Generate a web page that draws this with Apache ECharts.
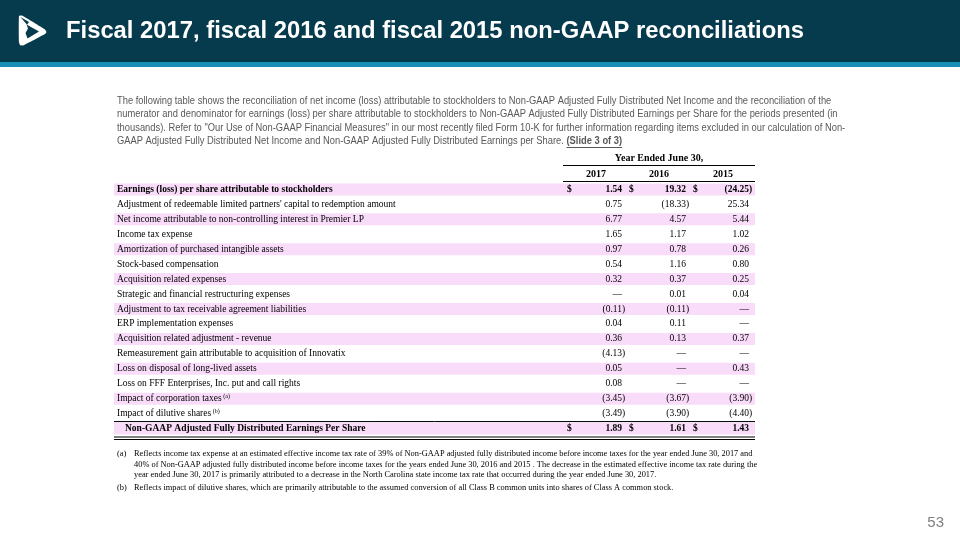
<!DOCTYPE html>
<html><head><meta charset="utf-8">
<script src="https://cdn.jsdelivr.net/npm/echarts@6/dist/echarts.min.js"></script>
<style>html,body{margin:0;padding:0;background:#fff}#c{width:960px;height:540px}</style>
</head><body><div id="c"></div>
<script>
// ---------- data ----------
const title = 'Fiscal 2017, fiscal 2016 and fiscal 2015 non-GAAP reconciliations';
const introLines = [
  'The following table shows the reconciliation of net income (loss) attributable to stockholders to Non-GAAP Adjusted Fully Distributed Net Income and the reconciliation of the',
  'numerator and denominator for earnings (loss) per share attributable to stockholders to Non-GAAP Adjusted Fully Distributed Earnings per Share for the periods presented (in',
  'thousands). Refer to "Our Use of Non-GAAP Financial Measures" in our most recently filed Form 10-K for further information regarding items excluded in our calculation of Non-',
  'GAAP Adjusted Fully Distributed Net Income and Non-GAAP Adjusted Fully Distributed Earnings per Share. '
];
const introTail = '(Slide 3 of 3)';
const groupHeader = 'Year Ended June 30,';
const years = ['2017', '2016', '2015'];
const rowLabels = [
  'Earnings (loss) per share attributable to stockholders',
  "Adjustment of redeemable limited partners' capital to redemption amount",
  'Net income attributable to non-controlling interest in Premier LP',
  'Income tax expense',
  'Amortization of purchased intangible assets',
  'Stock-based compensation',
  'Acquisition related expenses',
  'Strategic and financial restructuring expenses',
  'Adjustment to tax receivable agreement liabilities',
  'ERP implementation expenses',
  'Acquisition related adjustment - revenue',
  'Remeasurement gain attributable to acquisition of Innovatix',
  'Loss on disposal of long-lived assets',
  'Loss on FFF Enterprises, Inc. put and call rights',
  'Impact of corporation taxes',
  'Impact of dilutive shares',
  'Non-GAAP Adjusted Fully Distributed Earnings Per Share'
];
const rowNotes = [null, null, null, null, null, null, null, null, null, null, null, null, null, null, '(a)', '(b)', null];
const v2017 = [1.54, 0.75, 6.77, 1.65, 0.97, 0.54, 0.32, null, -0.11, 0.04, 0.36, -4.13, 0.05, 0.08, -3.45, -3.49, 1.89];
const v2016 = [19.32, -18.33, 4.57, 1.17, 0.78, 1.16, 0.37, 0.01, -0.11, 0.11, 0.13, null, null, null, -3.67, -3.90, 1.61];
const v2015 = [-24.25, 25.34, 5.44, 1.02, 0.26, 0.80, 0.25, 0.04, null, null, 0.37, null, 0.43, null, -3.90, -4.40, 1.43];
const footnoteA = [
  'Reflects income tax expense at an estimated effective income tax rate of 39% of Non-GAAP adjusted fully distributed income before income taxes for the year ended June 30, 2017 and',
  '40% of Non-GAAP adjusted fully distributed income before income taxes for the years ended June 30, 2016 and 2015 . The decrease in the estimated effective income tax rate during the',
  'year ended June 30, 2017 is primarily attributed to a decrease in the North Carolina state income tax rate that occurred during the year ended June 30, 2017.'
];
const footnoteB = ['Reflects impact of dilutive shares, which are primarily attributable to the assumed conversion of all Class B common units into shares of Class A common stock.'];
const pageNumber = '53';

// ---------- styling / layout ----------
const NAVY = '#063a4d', TEAL = '#1a8fb5', PINK = '#f9dcf9', GREY = '#595959';
const SANS = '"Liberation Sans", Arial, sans-serif';
const SERIF = '"Liberation Serif", "Times New Roman", serif';
const TFS = 9.5;
const cols = [
  {dollar: 567, right: 622, head: 596},
  {dollar: 629, right: 686, head: 659},
  {dollar: 693, right: 749, head: 723}
];
const values = [v2017, v2016, v2015];
const bandLeft = 114, bandRight = 755, labelX = 117;

const measure = (() => {
  const ctx = document.createElement('canvas').getContext('2d');
  return (s, font) => { ctx.font = font; return ctx.measureText(s).width; };
})();

const chart = echarts.init(document.getElementById('c'), null, {renderer: 'canvas'});

function renderRow(params, api) {
  const i = api.value(1);
  const yC = api.coord([0, i])[1];
  const h = api.size([0, 1])[1];
  const X = px => api.coord([px, i])[0];
  const last = i === rowLabels.length - 1;
  const bold = (i === 0 || last);
  const font = (bold ? 'bold ' : '') + TFS + 'px ' + SERIF;
  const ch = [];
  if (i % 2 === 0) {
    ch.push({type: 'rect', shape: {x: X(bandLeft), y: yC - 6, width: X(bandRight) - X(bandLeft), height: 12}, style: {fill: PINK}});
  }
  const note = rowNotes[i];
  ch.push({
    type: 'text',
    style: {
      x: X(last ? labelX + 8 : labelX), y: yC, verticalAlign: 'middle', align: 'left',
      text: '{n|' + rowLabels[i] + '}' + (note ? '{s| ' + note + '}' : ''),
      rich: {
        n: {fontFamily: SERIF, fontSize: TFS, fontWeight: bold ? 'bold' : 'normal', fill: '#000'},
        s: {fontFamily: SERIF, fontSize: 6, fill: '#000', padding: [0, 0, 5, 0]}
      }
    }
  });
  cols.forEach((c, k) => {
    const v = values[k][i];
    if (bold) ch.push({type: 'text', style: {x: X(c.dollar), y: yC, text: '$', font: font, fill: '#000', verticalAlign: 'middle', align: 'left'}});
    let s, tail = '';
    if (v === null) s = '\u2014';
    else if (v < 0) { s = '(' + Math.abs(v).toFixed(2); tail = ')'; }
    else s = v.toFixed(2);
    ch.push({type: 'text', style: {x: X(c.right), y: yC, text: s, font: font, fill: '#000', verticalAlign: 'middle', align: 'right'}});
    if (tail) ch.push({type: 'text', style: {x: X(c.right), y: yC, text: tail, font: font, fill: '#000', verticalAlign: 'middle', align: 'left'}});
  });
  if (last) {
    const top = yC - h / 2, bot = yC + h / 2;
    ch.push({type: 'line', shape: {x1: X(bandLeft), y1: top + 0.5, x2: X(bandRight), y2: top + 0.5}, style: {stroke: '#000', lineWidth: 1}});
    ch.push({type: 'line', shape: {x1: X(bandLeft), y1: bot + 1, x2: X(bandRight), y2: bot + 1}, style: {stroke: '#000', lineWidth: 1.2}});
    ch.push({type: 'line', shape: {x1: X(bandLeft), y1: bot + 3.5, x2: X(bandRight), y2: bot + 3.5}, style: {stroke: '#000', lineWidth: 1.2}});
  }
  return {type: 'group', children: ch};
}

const graphic = [];
graphic.push({type: 'rect', shape: {x: 0, y: 0, width: 960, height: 62}, style: {fill: NAVY}, silent: true});
graphic.push({type: 'rect', shape: {x: 0, y: 62, width: 960, height: 5}, style: {fill: TEAL}, silent: true});
// logo
graphic.push({type: 'polygon', shape: {points: [[19, 16], [22, 15.5], [45, 29.5], [46.5, 32], [45, 34], [23, 45.5], [20, 45], [19, 42]], smooth: 0.15}, style: {fill: '#fff'}});
graphic.push({type: 'polygon', shape: {points: [[26.5, 24.5], [39, 31.5], [27.5, 38.5], [25.5, 33], [28, 28.5]]}, style: {fill: NAVY}});
graphic.push({type: 'polygon', shape: {points: [[20.5, 17], [27, 24.8], [29, 22]]}, style: {fill: NAVY}});
graphic.push({type: 'text', x: 66, y: 31, style: {text: title, font: 'bold 23.8px ' + SANS, fill: '#fff', verticalAlign: 'middle'}});

// intro paragraph (slightly condensed horizontally, as in the source)
const IFS = 10, SX = 0.936, introFont = IFS + 'px ' + SANS, introBold = 'bold ' + IFS + 'px ' + SANS;
const introY = [101, 114.5, 128, 141.5];
introLines.forEach((t, k) => {
  graphic.push({type: 'text', x: 117, y: introY[k], scaleX: SX, style: {text: t, font: introFont, fill: GREY, verticalAlign: 'middle'}});
});
const w4 = measure(introLines[3], introFont) * SX;
const wt = measure(introTail, introBold) * SX;
graphic.push({type: 'text', x: 117 + w4, y: introY[3], scaleX: SX, style: {text: introTail, font: introBold, fill: GREY, verticalAlign: 'middle'}});
graphic.push({type: 'line', shape: {x1: 117 + w4, y1: introY[3] + 6, x2: 117 + w4 + wt, y2: introY[3] + 6}, style: {stroke: GREY, lineWidth: 1}});

// table headers
graphic.push({type: 'text', x: 659, y: 158, style: {text: groupHeader, font: 'bold 10px ' + SERIF, fill: '#000', align: 'center', verticalAlign: 'middle'}});
graphic.push({type: 'line', shape: {x1: 563, y1: 165.5, x2: 755, y2: 165.5}, style: {stroke: '#000', lineWidth: 1}});
years.forEach((y, k) => {
  graphic.push({type: 'text', x: cols[k].head, y: 174, style: {text: y, font: 'bold 10px ' + SERIF, fill: '#000', align: 'center', verticalAlign: 'middle'}});
});
graphic.push({type: 'line', shape: {x1: 563, y1: 181.5, x2: 755, y2: 181.5}, style: {stroke: '#000', lineWidth: 1}});

// footnotes
const FFS = 8.4, fnFont = FFS + 'px ' + SERIF;
const fnY = [454, 464.5, 475];
graphic.push({type: 'text', x: 117, y: fnY[0], style: {text: '(a)', font: fnFont, fill: '#000', verticalAlign: 'middle'}});
footnoteA.forEach((t, k) => graphic.push({type: 'text', x: 134, y: fnY[k], style: {text: t, font: fnFont, fill: '#000', verticalAlign: 'middle'}}));
graphic.push({type: 'text', x: 117, y: 488, style: {text: '(b)', font: fnFont, fill: '#000', verticalAlign: 'middle'}});
graphic.push({type: 'text', x: 134, y: 488, style: {text: footnoteB[0], font: fnFont, fill: '#000', verticalAlign: 'middle'}});

graphic.push({type: 'text', x: 944, y: 523, style: {text: pageNumber, font: '15px ' + SANS, fill: '#7f7f7f', align: 'right', verticalAlign: 'middle'}});

chart.setOption({
  animation: false,
  backgroundColor: '#fff',
  grid: {left: 0, right: 0, top: 182, height: 254},
  xAxis: {type: 'value', min: 0, max: 960, show: false},
  yAxis: {type: 'category', inverse: true, show: false, data: rowLabels.map((_, i) => String(i))},
  graphic: graphic,
  series: [{
    type: 'custom',
    renderItem: renderRow,
    clip: false,
    encode: {x: 0, y: 1},
    data: rowLabels.map((_, i) => [0, i])
  }]
});
</script></body></html>
